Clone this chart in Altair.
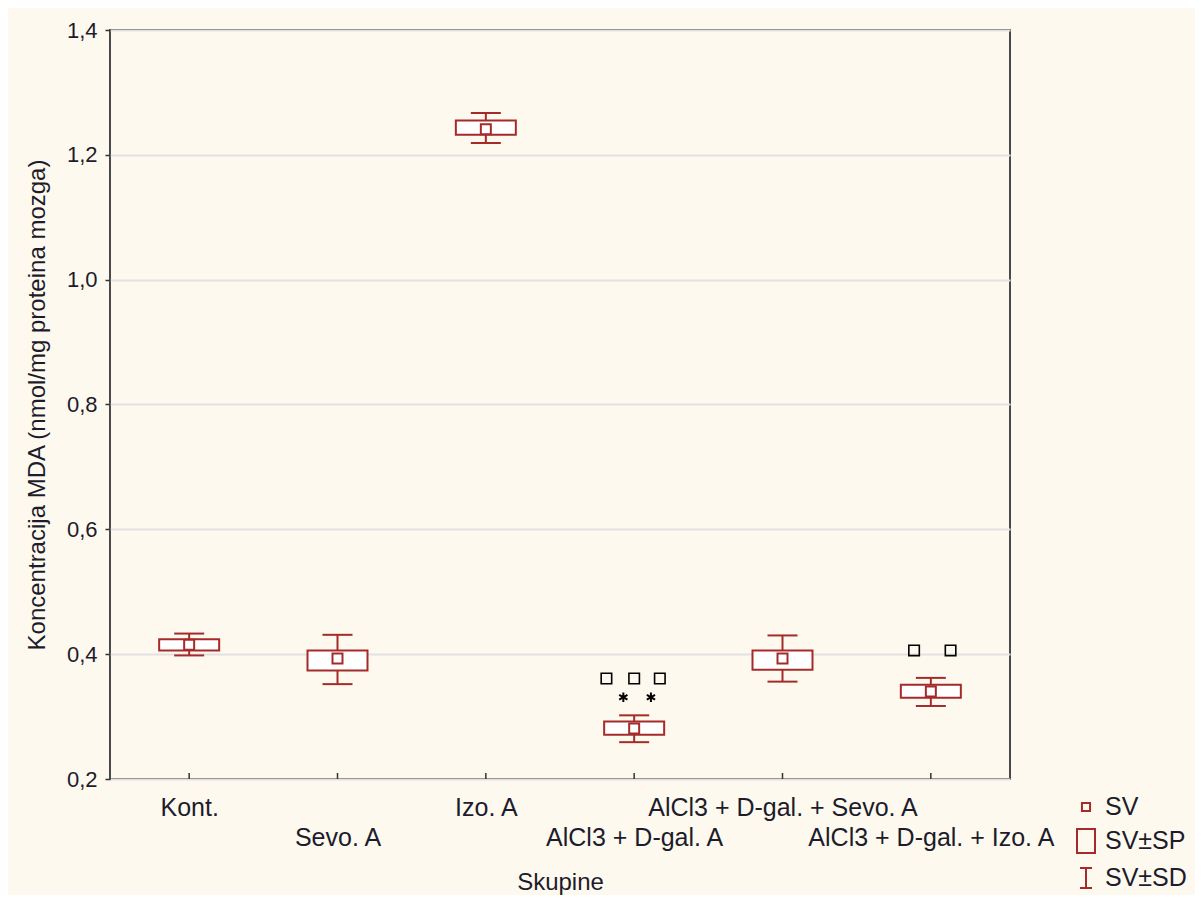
import altair as alt
import pandas as pd

# ---------------- data ----------------
categories = ["Kont.", "Sevo. A", "Izo. A", "AlCl3 + D-gal. A",
              "AlCl3 + D-gal. + Sevo. A", "AlCl3 + D-gal. + Izo. A"]
means   = [0.415, 0.393, 1.241, 0.281, 0.393, 0.340]
se_low  = [0.406, 0.374, 1.232, 0.271, 0.375, 0.330]
se_high = [0.424, 0.406, 1.255, 0.292, 0.406, 0.351]
sd_low  = [0.398, 0.352, 1.219, 0.259, 0.356, 0.317]
sd_high = [0.433, 0.431, 1.267, 0.302, 0.430, 0.362]

# significance markers (category index position, value)
square_x = [2.813, 3.0, 3.173, 4.887, 5.133]
square_y = [0.361, 0.361, 0.361, 0.406, 0.406]
star_x = [2.927, 3.113]
star_y = [0.331, 0.331]

legend_items = ["SV", "SV±SP", "SV±SD"]
y_ticks = [0.2, 0.4, 0.6, 0.8, 1.0, 1.2, 1.4]

# ---------------- styling ----------------
RED = "#a52a2a"
TXT = "#1c1c2c"
FONT = "Liberation Sans"
BG = "#fef9ee"

df = pd.DataFrame({
    "cat": categories,
    "i": list(range(len(categories))),
    "mean": means,
    "se_low": se_low,
    "se_high": se_high,
    "sd_low": sd_low,
    "sd_high": sd_high,
})
df_sq = pd.DataFrame({"x": square_x, "y": square_y})
df_star = pd.DataFrame({"x": star_x, "y": star_y})
df_leg = pd.DataFrame({"item": legend_items})


def js(s):
    return "'" + s.replace("'", "\\'") + "'"


label_items = [js(c) if k % 2 == 0 else "['', " + js(c) + "]"
               for k, c in enumerate(categories)]
x_label_expr = "[" + ", ".join(label_items) + "][datum.value]"

x_scale = alt.Scale(domain=[-0.5, len(categories) - 0.5], nice=False, zero=False)
y_scale = alt.Scale(domain=[y_ticks[0], y_ticks[-1]], nice=False, zero=False)

x_axis = alt.Axis(
    values=list(range(len(categories))), labelExpr=x_label_expr,
    labelFontSize=25, labelColor=TXT, labelFont=FONT, labelPadding=16,
    labelLineHeight=30, labelBaseline="top", labelOverlap=False,
    labelFlush=False, labelLimit=400, ticks=False, domain=False, grid=False,
    titleFontSize=24, titleFont=FONT, titleColor=TXT, titleFontWeight="normal",
    titlePadding=20,
)
y_axis = alt.Axis(
    values=y_ticks, labelExpr="replace(format(datum.value, '.1f'), '.', ',')",
    labelFontSize=22, labelColor=TXT, labelFont=FONT, labelPadding=8,
    tickSize=5, tickColor="#333333", tickWidth=1.5, domain=False,
    grid=True, gridColor="#e2e2e2", gridWidth=2,
    titleFontSize=24, titleFont=FONT, titleColor=TXT, titleFontWeight="normal",
    titlePadding=17,
)
X_TITLE = "Skupine"
Y_TITLE = "Koncentracija MDA (nmol/mg proteina mozga)"


def X(field):
    return alt.X(f"{field}:Q", scale=x_scale, axis=x_axis, title=X_TITLE)


def Y(field):
    return alt.Y(f"{field}:Q", scale=y_scale, axis=y_axis, title=Y_TITLE)


base = alt.Chart(df)

whisker = base.mark_rule(color=RED, strokeWidth=2).encode(
    x=X("i"), y=Y("sd_low"), y2="sd_high:Q")

box = base.mark_bar(size=60, orient="vertical", fill="white", stroke=RED,
                    strokeWidth=2).encode(
    x=X("i"), y=Y("se_low"), y2="se_high:Q")

caps = base.transform_fold(["sd_low", "sd_high"], as_=["k", "val"]).mark_point(
    shape="M-1,0H1", size=900, stroke=RED, strokeWidth=2, filled=False,
    opacity=1).encode(x=X("i"), y=Y("val"))

mean_pt = base.mark_point(shape="square", size=100, fill="white", stroke=RED,
                          strokeWidth=2, filled=True, opacity=1).encode(
    x=X("i"), y=Y("mean"))

inner_ticks = base.mark_point(shape="M0,0V-1", size=144, stroke="#333333",
                              strokeWidth=1.5, filled=False, opacity=1).encode(
    x=X("i"), y=alt.Y(datum=y_ticks[0], scale=y_scale, axis=y_axis, title=Y_TITLE))

sig_sq = alt.Chart(df_sq).mark_point(shape="square", size=110, stroke="black",
                                     strokeWidth=1.6, filled=False,
                                     opacity=1).encode(x=X("x"), y=Y("y"))

sig_star = alt.Chart(df_star).mark_point(
    shape="M0,-1V1M-0.87,-0.5L0.87,0.5M-0.87,0.5L0.87,-0.5", size=90,
    stroke="black", strokeWidth=2, filled=False, opacity=1).encode(
    x=X("x"), y=Y("y"))

legend_layer = alt.Chart(df_leg).mark_point(filled=False, strokeWidth=2,
                                            color=RED).encode(
    shape=alt.Shape(
        "item:N",
        scale=alt.Scale(domain=legend_items, range=[
            "M-0.27,-0.27H0.27V0.27H-0.27Z",
            "M-0.6,-0.8H0.6V0.8H-0.6Z",
            "M-0.4,-0.67H0.4M0,-0.67V0.67M-0.4,0.67H0.4",
        ]),
        legend=alt.Legend(
            title=None, orient="none", legendX=960, legendY=761,
            direction="vertical", symbolSize=900, symbolStrokeWidth=2,
            symbolStrokeColor=RED, symbolFillColor="white", symbolOpacity=1,
            labelFontSize=25, labelColor=TXT, labelFont=FONT, labelOffset=3,
            rowPadding=5, padding=0, labelLimit=300,
        ),
    ),
    opacity=alt.value(0),
)

chart = alt.layer(
    whisker, box, caps, mean_pt, inner_ticks, sig_sq, sig_star, legend_layer
).properties(
    width=900, height=749,
    autosize=alt.AutoSizeParams(type="none"),
    padding={"left": 102, "top": 22, "right": 185, "bottom": 116},
    background=BG,
).configure_view(stroke="#4a4a4a", strokeWidth=2, fill="white")

chart.save("out.html", embed_options={"renderer": "svg", "actions": False})
